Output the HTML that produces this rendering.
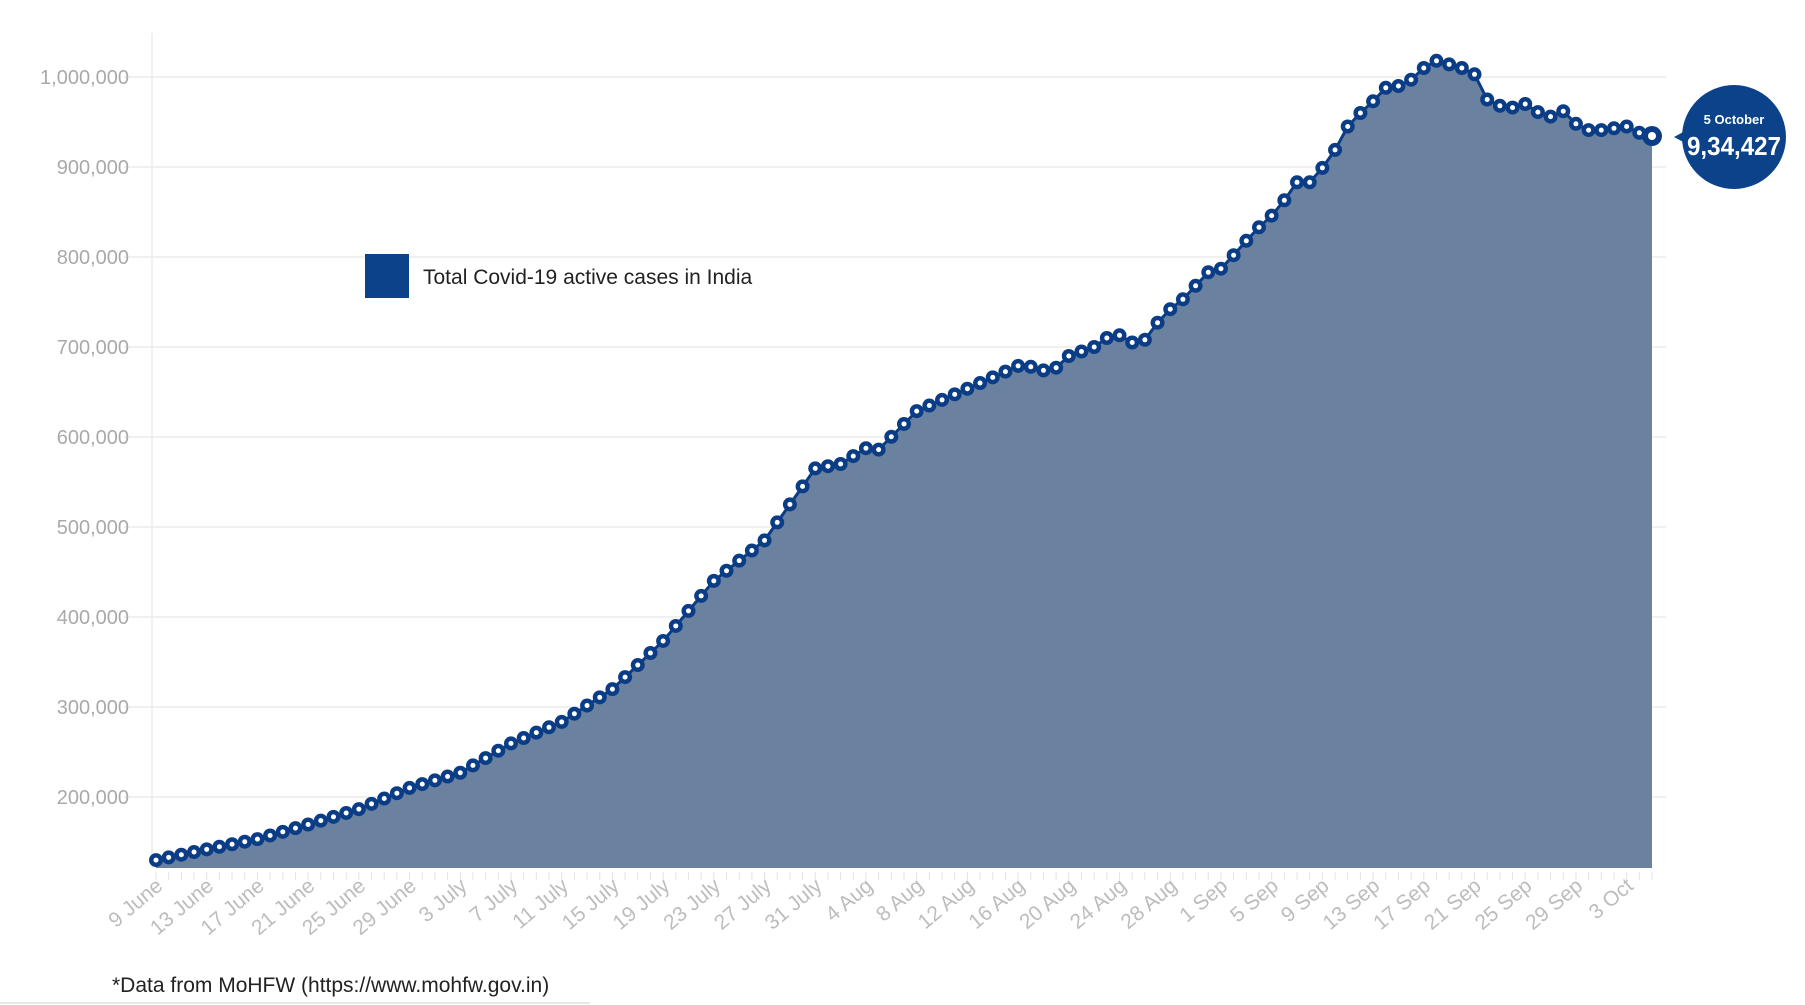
<!DOCTYPE html>
<html><head><meta charset="utf-8"><style>
html,body{margin:0;padding:0;background:#fff;}
svg{display:block;}
</style></head><body>
<svg id="c" width="1805" height="1005" xmlns="http://www.w3.org/2000/svg" font-family="Liberation Sans, sans-serif"></svg>
<script>
const svg=document.getElementById('c');
const NS='http://www.w3.org/2000/svg';
function el(t,a,txt){const e=document.createElementNS(NS,t);for(const k in a)e.setAttribute(k,a[k]);if(txt!==undefined)e.textContent=txt;svg.appendChild(e);return e;}
const Y=v=>77+(1e6-v)*0.0009;
const X0=156,DX=(1652-156)/118,BASE=868;
const knots=[[0,129917],[4,141842],[8,153178],[12,169451],[16,186514],[20,210120],[24,226947],[28,259557],[32,283407],[36,319840],[40,373379],[44,440135],[48,485114],[52,565103],[54,570000],[56,587545],[57,586000],[60,628747],[64,653622],[68,679000],[69,678000],[70,674000],[71,677000],[72,690000],[74,700000],[75,710000],[76,713000],[77,705000],[78,708000],[79,727000],[80,742000],[81,753000],[82,768000],[83,783000],[84,787000],[85,802000],[86,818000],[87,833000],[88,846000],[89,863000],[90,883000],[91,883000],[92,899000],[93,919000],[94,945000],[95,960000],[96,973000],[97,988000],[98,990000],[99,997000],[100,1010000],[101,1018000],[102,1014000],[103,1010000],[104,1003000],[105,975000],[106,968000],[107,966000],[108,970000],[109,961000],[110,956000],[111,962000],[112,948000],[113,941000],[114,941000],[115,943000],[116,945000],[117,938000],[118,934427]];
const vals=[];
for(let i=0;i<=118;i++){let k=0;while(k<knots.length-1&&knots[k+1][0]<i)k++;
 const a=knots[k],b=knots[Math.min(k+1,knots.length-1)];
 if(i<=a[0])vals.push(a[1]);else{const t=(i-a[0])/(b[0]-a[0]);vals.push(a[1]+(b[1]-a[1])*t);}}
for(let v=200000;v<=1e6;v+=100000){const y=Y(v);
 el('line',{x1:124,x2:1666,y1:y,y2:y,stroke:'#ebebeb','stroke-width':1.5});
 el('text',{x:129,y:y+7,'text-anchor':'end','font-size':20,fill:'#a9a9a9'},v.toLocaleString('en-US'));}
el('line',{x1:152,x2:152,y1:33,y2:BASE,stroke:'#ebebeb','stroke-width':1.5});
for(let i=0;i<=118;i++){const x=X0+i*DX;el('line',{x1:x,x2:x,y1:BASE+4,y2:BASE+12,stroke:'#e3e3e3','stroke-width':1});}
let d='M'+X0+','+BASE;
vals.forEach((v,i)=>{d+=' L'+(X0+i*DX).toFixed(1)+','+Y(v).toFixed(1);});
d+=' L'+(X0+118*DX)+','+BASE+' Z';
el('path',{d:d,fill:'#6a819f'});
let l='';vals.forEach((v,i)=>{l+=(i?' L':'M')+(X0+i*DX).toFixed(1)+','+Y(v).toFixed(1);});
el('path',{d:l,fill:'none',stroke:'#0b3d86','stroke-width':3});
vals.forEach((v,i)=>{const x=X0+i*DX,y=Y(v);const last=i==118;
 el('circle',{cx:x,cy:y,r:last?10:7,fill:'#0b3d86'});
 el('circle',{cx:x,cy:y,r:last?4:2.5,fill:'#fff'});});
const labs=['9 June','13 June','17 June','21 June','25 June','29 June','3 July','7 July','11 July','15 July','19 July','23 July','27 July','31 July','4 Aug','8 Aug','12 Aug','16 Aug','20 Aug','24 Aug','28 Aug','1 Sep','5 Sep','9 Sep','13 Sep','17 Sep','21 Sep','25 Sep','29 Sep','3 Oct'];
labs.forEach((t,j)=>{const x=X0+j*4*DX+8,y=BASE+20;
 el('text',{x:x,y:y,'text-anchor':'end','font-size':21,fill:'#bdbdbd',transform:`rotate(-40 ${x} ${y})`},t);});
el('rect',{x:365,y:254,width:44,height:44,fill:'#0b428a'});
el('text',{x:423,y:284,'font-size':21,fill:'#222'},'Total Covid-19 active cases in India');
el('polygon',{points:'1674,137 1687,130 1687,144',fill:'#0b428a'});
el('circle',{cx:1734,cy:137,r:52,fill:'#0b428a'});
el('text',{x:1734,y:124,'text-anchor':'middle','font-size':13,'font-weight':'bold',fill:'#fff'},'5 October');
el('text',{x:1734,y:155,'text-anchor':'middle','font-size':26,'font-weight':'bold',fill:'#fff',textLength:94,lengthAdjust:'spacingAndGlyphs'},'9,34,427');
el('text',{x:112,y:992,'font-size':21,fill:'#222'},'*Data from MoHFW (https://www.mohfw.gov.in)');
el('line',{x1:0,x2:590,y1:1003,y2:1003,stroke:'#e8e8e8','stroke-width':2});
</script>
</body></html>
